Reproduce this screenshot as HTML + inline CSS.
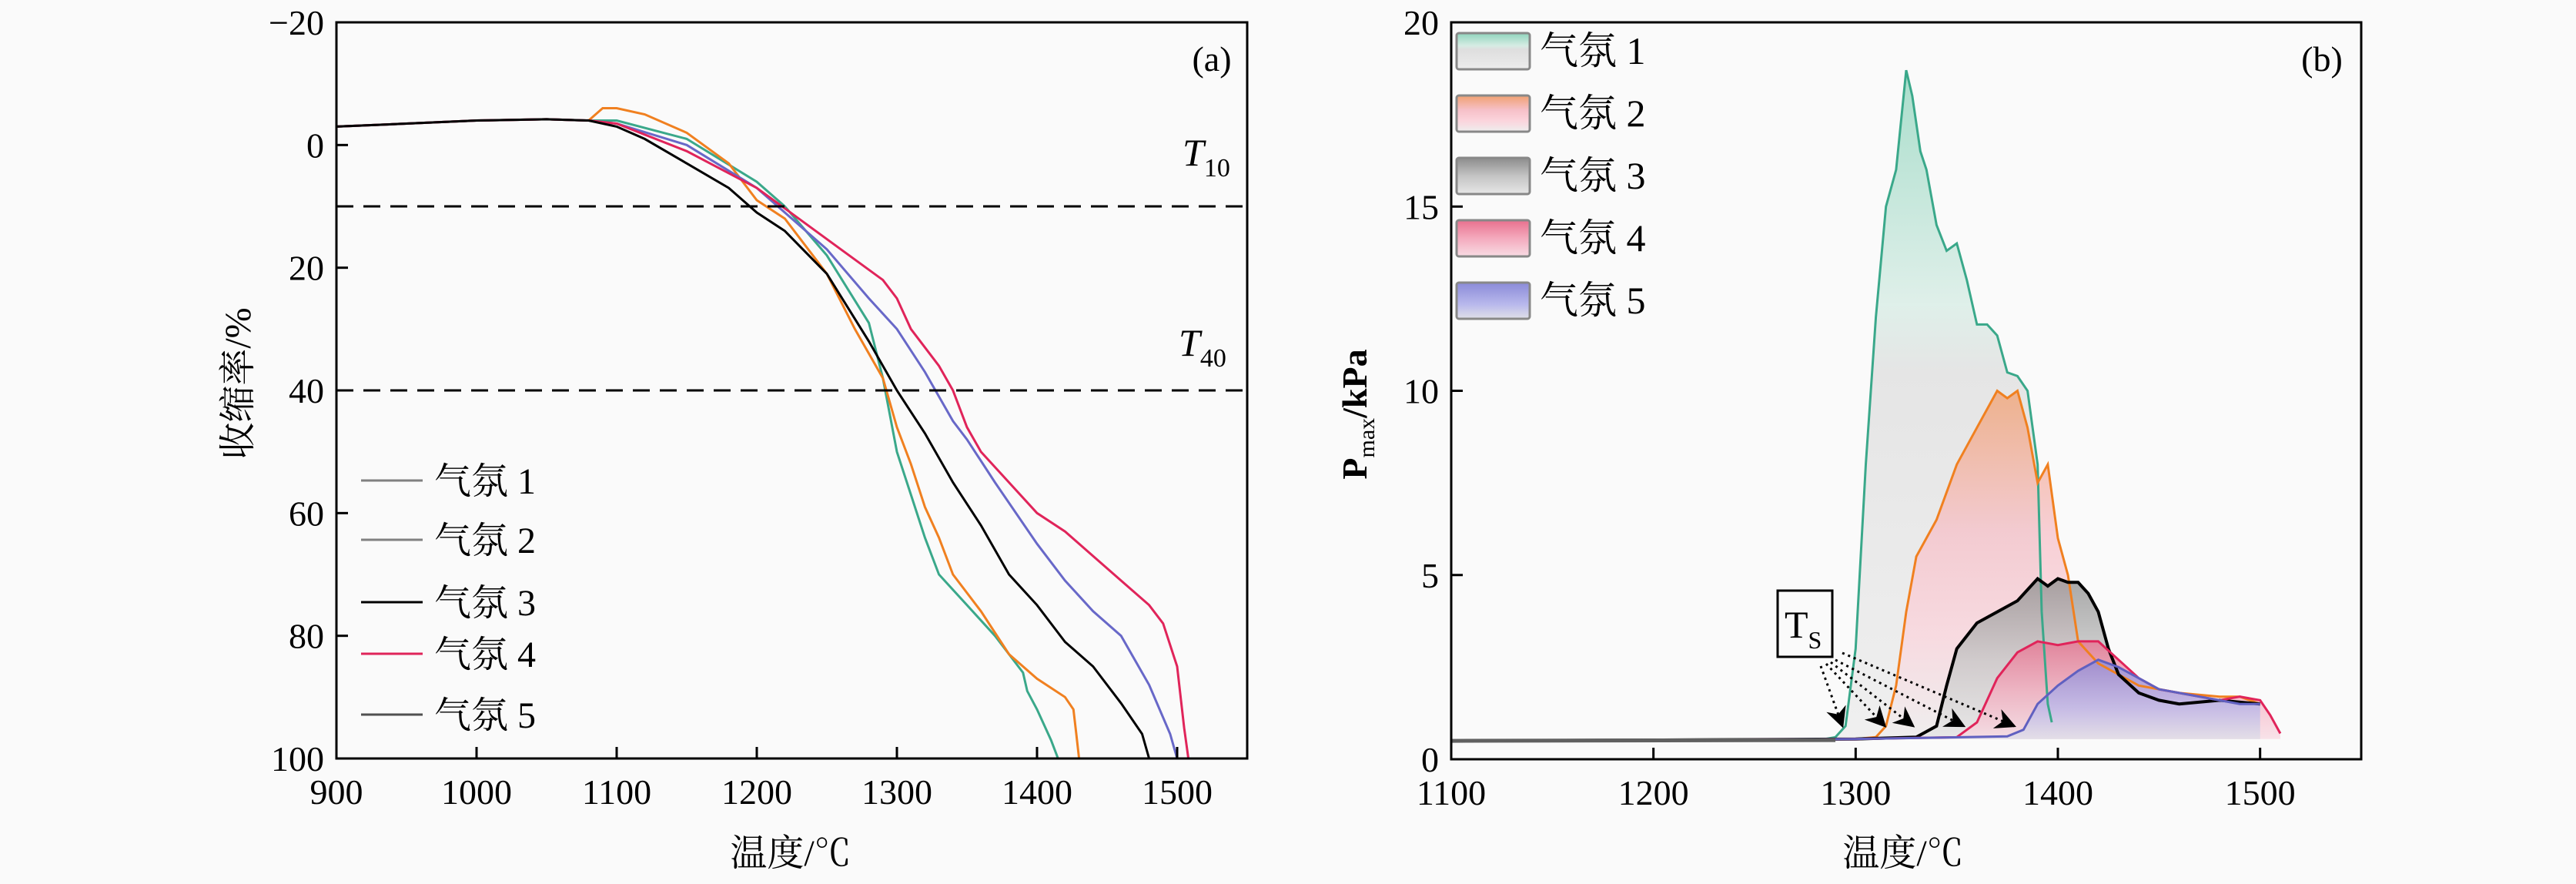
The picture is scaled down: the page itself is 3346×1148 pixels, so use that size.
<!DOCTYPE html>
<html><head><meta charset="utf-8">
<style>
html,body{margin:0;padding:0;background:#fafafa;}
svg{display:block;font-family:"Liberation Serif","Noto Serif CJK SC",serif;}
</style></head>
<body>
<svg id="fig" width="3346" height="1148" viewBox="0 0 3346 1148" xmlns="http://www.w3.org/2000/svg">
<defs>
<linearGradient id="g1" x1="0" y1="0" x2="0" y2="1"><stop offset="0" stop-color="#8fd4bc"/><stop offset="0.35" stop-color="#d6ece4"/><stop offset="0.45" stop-color="#dedede"/><stop offset="1" stop-color="#ececec"/></linearGradient>
<linearGradient id="g2" x1="0" y1="0" x2="0" y2="1"><stop offset="0" stop-color="#f0a070"/><stop offset="0.4" stop-color="#f6c0c8"/><stop offset="0.7" stop-color="#fbd4dc"/><stop offset="1" stop-color="#eeeeee"/></linearGradient>
<linearGradient id="g3" x1="0" y1="0" x2="0" y2="1"><stop offset="0" stop-color="#8c8c8c"/><stop offset="0.5" stop-color="#c4c4c4"/><stop offset="1" stop-color="#e6e6e6"/></linearGradient>
<linearGradient id="g4" x1="0" y1="0" x2="0" y2="1"><stop offset="0" stop-color="#e8708e"/><stop offset="0.5" stop-color="#f4aabd"/><stop offset="1" stop-color="#f8dce4"/></linearGradient>
<linearGradient id="g5" x1="0" y1="0" x2="0" y2="1"><stop offset="0" stop-color="#8a8ad8"/><stop offset="0.6" stop-color="#b8b8ec"/><stop offset="1" stop-color="#e0e0e8"/></linearGradient>
<marker id="arr" viewBox="0 0 10 10" refX="9" refY="5" markerWidth="9" markerHeight="9" orient="auto"><path d="M0,0 L10,5 L0,10 L3,5 z" fill="#000"/></marker>
</defs>
<g id="chartA"></g>
<g id="chartB"></g>
</svg>
<script>
// ---- Chart (a) data ----
const aT1=[900,950,1000,1050,1080,1100,1150,1200,1220,1250,1280,1290,1300,1310,1320,1330,1350,1370,1390,1393,1400,1410,1415];
const aY1=[-3,-3.5,-4,-4.2,-4,-4,-1,6,10,18,29,38,50,57,64,70,75,80,86,89,92,97,100];
const aT2=[900,950,1000,1050,1080,1090,1100,1120,1150,1180,1200,1220,1250,1270,1290,1300,1310,1320,1330,1340,1360,1380,1400,1420,1426,1428,1430];
const aY2=[-3,-3.5,-4,-4.2,-4,-6,-6,-5,-2,3,9,12,21,30,38,46,52,59,64,70,76,83,87,90,92,96,100];
const aT3=[900,950,1000,1050,1080,1100,1120,1150,1180,1200,1220,1250,1280,1300,1320,1340,1360,1380,1400,1420,1440,1460,1475,1480];
const aY3=[-3,-3.5,-4,-4.2,-4,-3,-1,3,7,11,14,21,32,40,47,55,62,70,75,81,85,91,96,100];
const aT4=[900,950,1000,1050,1080,1100,1150,1200,1230,1260,1290,1300,1310,1320,1330,1340,1350,1360,1380,1400,1420,1440,1460,1480,1490,1500,1505,1508];
const aY4=[-3,-3.5,-4,-4.2,-4,-3.5,1,7,12,17,22,25,30,33,36,40,46,50,55,60,63,67,71,75,78,85,95,100];
const aT5=[900,950,1000,1050,1080,1100,1150,1200,1250,1280,1300,1320,1340,1350,1370,1400,1420,1440,1460,1480,1495,1500];
const aY5=[-3,-3.5,-4,-4.2,-4,-3.5,0,7,17,25,30,37,45,48,55,65,71,76,80,88,96,100];
const aXTicks=[900,1000,1100,1200,1300,1400,1500];
const aYTicks=[-20,0,20,40,60,80,100];
const aRefLines=[10,40];
const aNames=["气氛 1","气氛 2","气氛 3","气氛 4","气氛 5"];

// ---- Chart (b) data ----
const bT1=[1100,1200,1285,1290,1295,1300,1305,1310,1315,1320,1325,1328,1332,1335,1340,1345,1350,1355,1360,1365,1370,1375,1380,1385,1390,1392,1395,1397];
const bP1=[0.5,0.52,0.55,0.6,0.9,3,8,12,15,16,18.7,18,16.5,16,14.5,13.8,14,13,11.8,11.8,11.5,10.5,10.4,10,8,4,1.5,1];
const bT2=[1100,1200,1300,1310,1315,1320,1325,1330,1340,1350,1360,1370,1375,1380,1385,1390,1395,1400,1405,1410,1420,1440,1460,1480,1490,1500];
const bP2=[0.5,0.52,0.55,0.6,0.9,2,4,5.5,6.5,8,9,10,9.8,10,9,7.5,8,6,5,3.2,2.6,2,1.8,1.7,1.7,1.5];
const bT3=[1100,1200,1300,1330,1340,1345,1350,1360,1370,1380,1390,1395,1400,1405,1410,1415,1420,1425,1430,1440,1450,1460,1480,1500];
const bP3=[0.5,0.52,0.55,0.6,0.9,2,3,3.7,4,4.3,4.9,4.7,4.9,4.8,4.8,4.5,4,3,2.3,1.8,1.6,1.5,1.6,1.5];
const bT4=[1100,1200,1300,1350,1360,1370,1380,1390,1400,1410,1420,1430,1440,1450,1460,1480,1490,1500,1505,1510];
const bP4=[0.5,0.52,0.55,0.6,1,2.2,2.9,3.2,3.1,3.2,3.2,2.7,2.2,1.9,1.8,1.6,1.7,1.6,1.2,0.7];
const bT5=[1100,1200,1300,1375,1383,1390,1400,1410,1420,1430,1440,1450,1460,1470,1480,1490,1500];
const bP5=[0.5,0.52,0.55,0.62,0.8,1.5,2,2.4,2.7,2.5,2.2,1.9,1.8,1.7,1.6,1.5,1.5];
const bXTicks=[1100,1200,1300,1400,1500];
const bYTicks=[0,5,10,15,20];
const bOnsets=[1295,1316,1330,1355,1380];

const NS="http://www.w3.org/2000/svg";
function mk(parent,tag,attrs,text){const e=document.createElementNS(NS,tag);for(const k in attrs)e.setAttribute(k,attrs[k]);if(text!==undefined)e.textContent=text;parent.appendChild(e);return e;}

// ===== Chart A =====
const A=document.getElementById('chartA');
const aL=437,aR=1620,aTp=29,aB=985,aX0=900,aX1=1550,aY0=-20,aY1m=100;
const ax=t=>aL+(t-aX0)/(aX1-aX0)*(aR-aL);
const ay=v=>aTp+(v-aY0)/(aY1m-aY0)*(aB-aTp);
const aColors=["#3aa88a","#f08020","#000000","#e0245a","#6868c8"];
const aSeries=[[aT1,aY1],[aT2,aY2],[aT3,aY3],[aT4,aY4],[aT5,aY5]];
const aDraw=[0,1,4,3,2];
aDraw.forEach(i=>{
  const [T,Y]=aSeries[i];
  const d=T.map((t,k)=>(k?'L':'M')+ax(t).toFixed(1)+','+ay(Y[k]).toFixed(1)).join(' ');
  const p=mk(A,'path',{d:d,fill:'none',stroke:aColors[i],'stroke-width':3});
  
  
});
aRefLines.forEach((v,i)=>{
  const l=mk(A,'line',{x1:aL,x2:aR,y1:ay(v),y2:ay(v),stroke:'#000','stroke-width':3,'stroke-dasharray':'22,13'});
  
  
});
let t10=mk(A,'text',{x:1536,y:215,'font-size':50,'font-style':'italic'},'T');


mk(t10,'tspan',{'font-size':34,'font-style':'normal',dy:14},'10');
let t40=mk(A,'text',{x:1531,y:462,'font-size':50,'font-style':'italic'},'T');


mk(t40,'tspan',{'font-size':34,'font-style':'normal',dy:14},'40');
const aFrame=mk(A,'rect',{x:aL,y:aTp,width:aR-aL,height:aB-aTp,fill:'none',stroke:'#000','stroke-width':3});


aXTicks.forEach(t=>{
  const tk=mk(A,'line',{x1:ax(t),x2:ax(t),y1:aB,y2:aB-15,stroke:'#000','stroke-width':3});
  
  
  const tl=mk(A,'text',{x:ax(t),y:aB+59,'font-size':46,'text-anchor':'middle'},String(t));
  
  
});
aYTicks.forEach(v=>{
  const tk=mk(A,'line',{x1:aL,x2:aL+15,y1:ay(v),y2:ay(v),stroke:'#000','stroke-width':3});
  
  
  const tl=mk(A,'text',{x:aL-16,y:ay(v)+16,'font-size':46,'text-anchor':'end'},v<0?'\u2212'+(-v):String(v));
  
  
});
const aPanel=mk(A,'text',{x:1574,y:92,'font-size':46,'text-anchor':'middle'},'(a)');


const aXT=mk(A,'text',{x:1027,y:1124,'font-size':48,'text-anchor':'middle'},'温度/℃');


const aYT=mk(A,'text',{x:0,y:0,'font-size':48,'text-anchor':'middle',transform:'translate(325,498) rotate(-90)'},'收缩率/%');


const aLegY=[624,701,782,849,928];
const aLegCol=["#808080","#808080","#000000","#e0245a","#505050"];
aNames.forEach((n,i)=>{
  const g=mk(A,'g',{});
  
  
  mk(g,'line',{x1:469,x2:549,y1:aLegY[i],y2:aLegY[i],stroke:aLegCol[i],'stroke-width':3});
  mk(g,'text',{x:564,y:aLegY[i]+17,'font-size':48},n);
});

// ===== Chart B =====
const B=document.getElementById('chartB');
const bL=1885,bR=3067,bTp=29,bB=986,bX0=1100,bX1=1550,bY0=0,bY1=20;
const bx=t=>bL+(t-bX0)/(bX1-bX0)*(bR-bL);
const by=v=>bB-(v-bY0)/(bY1-bY0)*(bB-bTp);
const bColors=["#3aa88a","#f08020","#000000","#e0245a","#6060c0"];
const bSeries=[[bT1,bP1],[bT2,bP2],[bT3,bP3],[bT4,bP4],[bT5,bP5]];
bSeries.forEach(([T,P],i)=>{
  const pts=T.map((t,k)=>bx(t).toFixed(1)+','+by(P[k]).toFixed(1));
  let d='M'+pts.join(' L')+' L'+bx(T[T.length-1]).toFixed(1)+','+by(0.55).toFixed(1)+' L'+bx(T[0]).toFixed(1)+','+by(0.55).toFixed(1)+' Z';
  const a=mk(B,'path',{d:d,fill:'url(#g'+(i+1)+')','fill-opacity':0.75,stroke:'none'});
  
  
});
bSeries.forEach(([T,P],i)=>{
  const d=T.map((t,k)=>(k?'L':'M')+bx(t).toFixed(1)+','+by(P[k]).toFixed(1)).join(' ');
  const p=mk(B,'path',{d:d,fill:'none',stroke:bColors[i],'stroke-width':i==2?4:3});
  
  
});
const base=mk(B,'line',{x1:bL,x2:bx(1290),y1:by(0.5),y2:by(0.52),stroke:'#606060','stroke-width':5});


// Ts annotation
const tsBox=mk(B,'rect',{x:2309,y:767,width:71,height:86,fill:'none',stroke:'#000','stroke-width':3});


const tsT=mk(B,'text',{x:2318,y:828,'font-size':50},'T');


mk(tsT,'tspan',{'font-size':32,dy:14},'S');
const starts=[[2365,865],[2372,862],[2378,860],[2384,857],[2393,848]];
bOnsets.forEach((t,i)=>{
  const ar=mk(B,'line',{x1:starts[i][0],y1:starts[i][1],x2:bx(t)-4,y2:by(0.9),stroke:'#000','stroke-width':3,'stroke-dasharray':'3,5','marker-end':'url(#arr)'});
  
  
});
const bFrame=mk(B,'rect',{x:bL,y:bTp,width:bR-bL,height:bB-bTp,fill:'none',stroke:'#000','stroke-width':3});


bXTicks.forEach(t=>{
  const tk=mk(B,'line',{x1:bx(t),x2:bx(t),y1:bB,y2:bB-15,stroke:'#000','stroke-width':3});
  
  
  const tl=mk(B,'text',{x:bx(t),y:bB+59,'font-size':46,'text-anchor':'middle'},String(t));
  
  
});
bYTicks.forEach(v=>{
  const tk=mk(B,'line',{x1:bL,x2:bL+15,y1:by(v),y2:by(v),stroke:'#000','stroke-width':3});
  
  
  const tl=mk(B,'text',{x:bL-16,y:by(v)+16,'font-size':46,'text-anchor':'end'},String(v));
  
  
});
const bPanel=mk(B,'text',{x:3016,y:92,'font-size':46,'text-anchor':'middle'},'(b)');


const bXT=mk(B,'text',{x:2472,y:1124,'font-size':48,'text-anchor':'middle'},'温度/℃');


const bYT=mk(B,'text',{x:0,y:0,'font-size':46,'text-anchor':'middle','font-weight':'bold',transform:'translate(1775,538) rotate(-90)'},'P');


mk(bYT,'tspan',{'font-size':30,'font-weight':'normal',dy:10},'max');
mk(bYT,'tspan',{dy:-10},'/kPa');
aNames.forEach((n,i)=>{
  const y0=43+i*81;
  const g=mk(B,'g',{});
  
  
  mk(g,'rect',{x:1892,y:y0,width:95,height:47,fill:'url(#g'+(i+1)+')',stroke:'#888','stroke-width':3,rx:3});
  mk(g,'text',{x:2000,y:y0+40,'font-size':50},n);
});
</script>
</body></html>
